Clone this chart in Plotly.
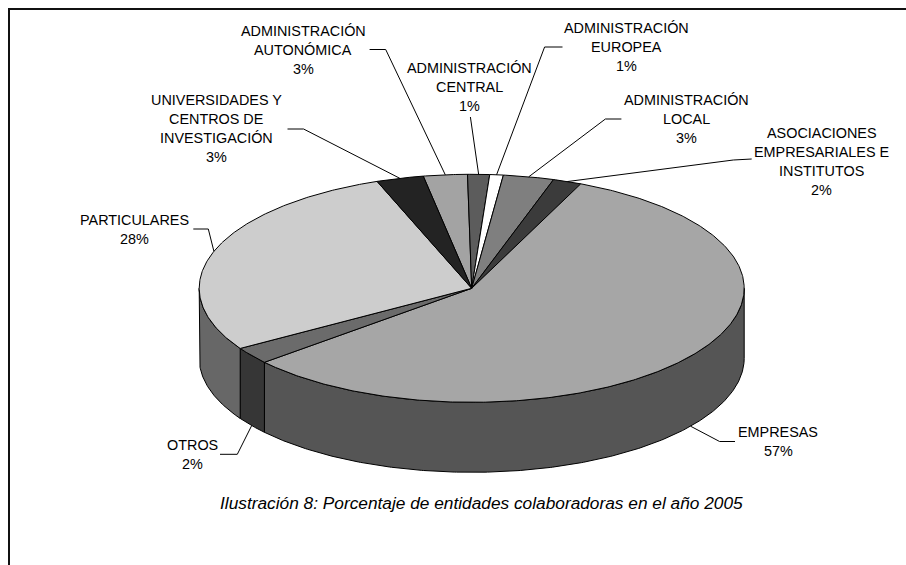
import numpy as np
import plotly.graph_objects as go

# ---------------- data ----------------
categories = [
    "ADMINISTRACIÓN AUTONÓMICA",
    "ADMINISTRACIÓN CENTRAL",
    "ADMINISTRACIÓN EUROPEA",
    "ADMINISTRACIÓN LOCAL",
    "ASOCIACIONES EMPRESARIALES E INSTITUTOS",
    "EMPRESAS",
    "OTROS",
    "PARTICULARES",
    "UNIVERSIDADES Y CENTROS DE INVESTIGACIÓN",
]
values = [2.6, 1.3, 0.8, 3.0, 1.7, 57.2, 2.4, 28.2, 2.8]
label_lines = [
    ["ADMINISTRACIÓN", "AUTONÓMICA"],
    ["ADMINISTRACIÓN", "CENTRAL"],
    ["ADMINISTRACIÓN", "EUROPEA"],
    ["ADMINISTRACIÓN", "LOCAL"],
    ["ASOCIACIONES", "EMPRESARIALES E", "INSTITUTOS"],
    ["EMPRESAS"],
    ["OTROS"],
    ["PARTICULARES"],
    ["UNIVERSIDADES Y", "CENTROS DE", "INVESTIGACIÓN"],
]
caption = "Ilustración 8: Porcentaje de entidades colaboradoras en el año 2005"

# ---------------- styles / layout ----------------
top_colors = ["#a3a3a3", "#5c5c5c", "#ffffff", "#7f7f7f", "#3b3b3b",
              "#a6a6a6", "#6b6b6b", "#cdcdcd", "#232323"]
side_colors = ["#525252", "#2e2e2e", "#808080", "#404040", "#1e1e1e",
               "#555555", "#363636", "#676767", "#121212"]

W, H = 906, 565
CX, CY, RX, RY, DEPTH = 471.7, 288.3, 272.5, 114.0, 70.0
START = -10.24          # rotation of first slice (degrees, clockwise from 12 o'clock)
FONT = "Liberation Sans, Arial, sans-serif"
FS = 14.4
LINE_H = 19.0

# label block centres (x, y) and leader points from label edge to elbow
label_pos = [(303, 49.5), (469.6, 87), (626.5, 47), (686, 119), (821.5, 161),
             (778, 441.5), (192, 454.5), (134.5, 229.5), (216, 128.5)]
leader_pts = [
    [(369.6, 49.5), (385.7, 49.5)],
    [(470.4, 117)],
    [(562.5, 47), (544.6, 47)],
    [(621.4, 119), (605.4, 119)],
    [(751.7, 159), (733.3, 160)],
    [(735, 441.5), (719.6, 441.5)],
    [(220, 454.3), (237.3, 454.3)],
    [(193.3, 229), (208.3, 229)],
    [(287.5, 129), (303.6, 129)],
]


def pt(t_deg, z=0.0):
    t = np.radians(t_deg)
    return CX + RX * np.sin(t), CY - RY * np.cos(t) + z


def arc(t1, t2, z=0.0):
    n = max(3, int(abs(t2 - t1) * 2) + 2)
    ts = np.linspace(t1, t2, n)
    xs, ys = pt(ts, z)
    return list(xs), list(ys)


vals = np.array(values, dtype=float)
frac = vals / vals.sum()
cum = np.concatenate([[0], np.cumsum(frac)])
t_start = START + 360 * cum[:-1]
t_end = START + 360 * cum[1:]

fig = go.Figure()

# --- side walls (front half only) ---
for i in range(len(values)):
    t1, t2 = t_start[i], t_end[i]
    for shift in (0, 360, -360):
        lo = max(t1 + shift, 90)
        hi = min(t2 + shift, 270)
        if hi > lo:
            xt, yt = arc(lo, hi, 0)
            xb, yb = arc(hi, lo, DEPTH)
            fig.add_trace(go.Scatter(
                x=xt + xb + [xt[0]], y=yt + yb + [yt[0]],
                mode="lines", fill="toself", fillcolor=side_colors[i],
                line=dict(color="black", width=1), hoverinfo="skip",
                showlegend=False))

# --- top faces ---
for i in range(len(values)):
    xa, ya = arc(t_start[i], t_end[i], 0)
    fig.add_trace(go.Scatter(
        x=[CX] + xa + [CX], y=[CY] + ya + [CY],
        mode="lines", fill="toself", fillcolor=top_colors[i],
        line=dict(color="black", width=1), hoverinfo="skip",
        name=categories[i], showlegend=False))

# --- leader lines & labels ---
annotations = []
for i in range(len(values)):
    mid = (t_start[i] + t_end[i]) / 2
    m = mid % 360
    if 90 < m < 270:
        ax, ay = pt(mid, DEPTH)
    else:
        ax, ay = pt(mid, 0)
    xs = [p[0] for p in leader_pts[i]] + [ax]
    ys = [p[1] for p in leader_pts[i]] + [ay]
    fig.add_trace(go.Scatter(x=xs, y=ys, mode="lines",
                             line=dict(color="black", width=1),
                             hoverinfo="skip", showlegend=False))
    lines = label_lines[i] + [f"{round(values[i])}%"]
    cx, cy = label_pos[i]
    n = len(lines)
    for k, txt in enumerate(lines):
        yy = cy + (k - (n - 1) / 2) * LINE_H
        annotations.append(dict(x=cx, y=yy, xref="x", yref="y", text=txt,
                                showarrow=False, xanchor="center", yanchor="middle",
                                font=dict(family=FONT, size=FS, color="black")))

annotations.append(dict(x=481.5, y=503, xref="x", yref="y", text=f"<i>{caption}</i>",
                        showarrow=False, xanchor="center", yanchor="middle",
                        font=dict(family=FONT, size=17.3, color="black")))

fig.update_layout(
    width=W, height=H,
    margin=dict(l=0, r=0, t=0, b=0),
    paper_bgcolor="white", plot_bgcolor="white",
    xaxis=dict(range=[0, W], visible=False, fixedrange=True),
    yaxis=dict(range=[H, 0], visible=False, fixedrange=True),
    annotations=annotations,
    shapes=[
        dict(type="line", xref="x", yref="y", x0=8, y0=9, x1=W, y1=9,
             line=dict(color="#111111", width=2)),
        dict(type="line", xref="x", yref="y", x0=9, y0=8, x1=9, y1=H,
             line=dict(color="#111111", width=2)),
    ],
    showlegend=False,
)

fig.write_html(
    "out.html",
    config={"displayModeBar": False},
    post_script="document.body.style.margin='0px';"
                "document.documentElement.style.overflow='hidden';"
                "document.body.style.overflow='hidden';",
)
